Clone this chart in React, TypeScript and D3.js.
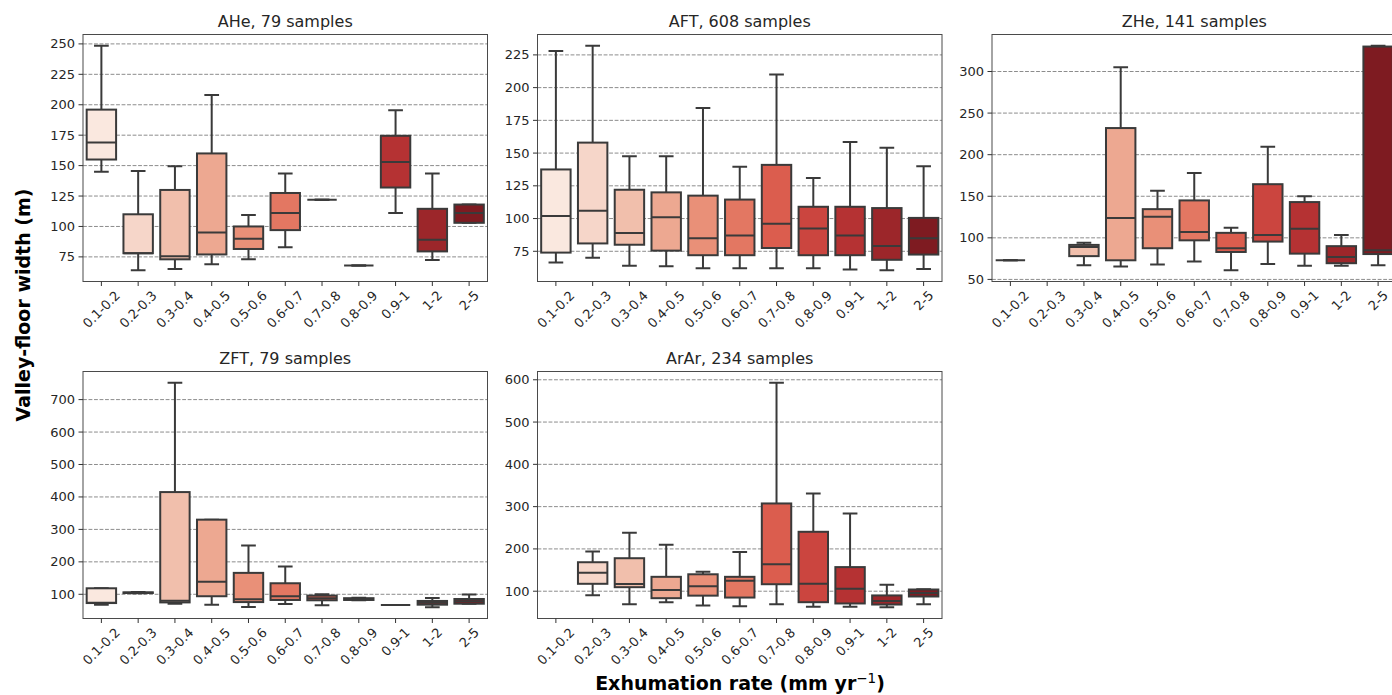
import { useRef, useEffect } from 'react';
import * as d3 from 'd3';

const categories = ['0.1-0.2', '0.2-0.3', '0.3-0.4', '0.4-0.5', '0.5-0.6', '0.6-0.7', '0.7-0.8', '0.8-0.9', '0.9-1', '1-2', '2-5'];

// [lower whisker, q1, median, q3, upper whisker] per category, null = no data
const aheStats = [
  [145, 155, 169, 196, 248.5],
  [64, 78, 78, 110, 145.5],
  [65, 73, 75.5, 130, 149.5],
  [69, 77, 95, 160, 208],
  [73, 81.5, 90, 100, 109.5],
  [83, 97, 111, 127.5, 143.5],
  [122, 122, 122, 122, 122],
  [68, 68, 68, 68, 68],
  [111, 132, 153, 174.5, 195.5],
  [72.5, 79.5, 89, 114.5, 143.5],
  [103, 103, 111, 118, 118],
];
const aftStats = [
  [66.5, 74, 102, 137.5, 228],
  [70, 81, 106, 158, 232],
  [64, 80, 89, 122, 147.5],
  [63.5, 75.5, 101, 120, 147.5],
  [62, 72, 85, 117.5, 184.5],
  [62, 72, 87, 114.5, 139.5],
  [62, 77.5, 96, 141, 210],
  [62, 72, 92.5, 109, 131],
  [61, 72, 87, 109, 158.5],
  [60.5, 68.5, 79, 108, 154],
  [61.5, 72.5, 85, 100.5, 140],
];
const zheStats = [
  [73, 73, 73, 73, 73],
  null,
  [67, 78, 89, 91.5, 94],
  [65.5, 73, 124, 232, 305],
  [68, 87.5, 125.5, 134.5, 156.5],
  [71.5, 97, 107, 145, 178],
  [61, 83, 87.5, 106, 112],
  [68.5, 95.5, 103.5, 164.5, 209.5],
  [66.5, 81, 111, 143, 150],
  [66.5, 69.5, 77, 90, 103.5],
  [67, 80.5, 85, 330, 331],
];
const zftStats = [
  [68, 73, 74, 118.5, 118.5],
  [103, 104, 105, 106, 107],
  [71, 75, 80, 415, 752],
  [68, 94, 139, 330, 330],
  [61, 76, 84.5, 166, 250],
  [70, 82.5, 94, 134, 186],
  [66, 81.5, 87.5, 96, 100],
  [82, 82.5, 85, 88, 89],
  [67, 67, 67, 67, 67],
  [60, 68, 74, 79.5, 88.5],
  [71, 71, 78.5, 85.5, 99],
];
const ararStats = [
  null,
  [90.5, 117.5, 143.5, 168.5, 194],
  [69, 109.5, 117, 178, 238],
  [74, 83.5, 103, 134, 210],
  [66, 89.5, 112, 140, 146],
  [64.5, 85, 125, 134, 193],
  [69, 116.5, 164, 307.5, 593],
  [63.5, 74, 117.5, 240.5, 331],
  [63.5, 71, 106, 157, 284],
  [62, 68.5, 77, 90, 115],
  [69, 87.5, 96, 104, 104.5],
];

const titles = ['AHe, 79 samples', 'AFT, 608 samples', 'ZHe, 141 samples', 'ZFT, 79 samples', 'ArAr, 234 samples'];
const yTicks = [
  [75, 100, 125, 150, 175, 200, 225, 250],
  [75, 100, 125, 150, 175, 200, 225],
  [50, 100, 150, 200, 250, 300],
  [100, 200, 300, 400, 500, 600, 700],
  [100, 200, 300, 400, 500, 600],
];
const panelStats = [aheStats, aftStats, zheStats, zftStats, ararStats];

const W = 1392;
const H = 695;
const colLeft = [83, 537.5, 992];
const rowTop = [34.5, 371.5];
const plotW = 404.5;
const plotH = 247;
const font = 'DejaVu Sans, sans-serif';
const lineColor = '#3a3a3a';

function boxColor(i) {
  const c = d3.hsl(d3.interpolateReds((i + 1) / 12));
  c.s *= 0.75; // seaborn desaturation
  return c.formatHex();
}

export default function App() {
  const ref = useRef(null);

  useEffect(() => {
    const svg = d3.select(ref.current);
    svg.selectAll('*').remove();

    panelStats.forEach((stats, p) => {
      const left = colLeft[p % 3];
      const top = rowTop[Math.floor(p / 3)];
      const bottom = top + plotH;
      const right = left + plotW;

      const vals = stats.filter(Boolean).flat();
      const lo = d3.min(vals);
      const hi = d3.max(vals);
      const m = (hi - lo) * 0.05;

      const x = d3.scaleBand().domain(categories).range([left, right]).padding(0);
      const y = d3.scaleLinear().domain([lo - m, hi + m]).range([bottom, top]);
      const bw = x.bandwidth() * 0.8;

      const defs = svg.append('defs');
      defs.append('clipPath').attr('id', `clip${p}`)
        .append('rect').attr('x', left).attr('y', top).attr('width', plotW).attr('height', plotH);

      const g = svg.append('g');
      const inner = g.append('g').attr('clip-path', `url(#clip${p})`);

      // grid
      inner.selectAll('line.grid')
        .data(yTicks[p])
        .join('line')
        .attr('x1', left).attr('x2', right)
        .attr('y1', (d) => y(d)).attr('y2', (d) => y(d))
        .attr('stroke', '#8c8c8c')
        .attr('stroke-width', 1)
        .attr('stroke-dasharray', '3.85,1.66');

      // boxes
      stats.forEach((s, i) => {
        if (!s) return;
        const [wl, q1, med, q3, wh] = s;
        const cx = x(categories[i]) + x.bandwidth() / 2;
        const b = inner.append('g');
        b.append('line').attr('x1', cx).attr('x2', cx).attr('y1', y(q1)).attr('y2', y(wl))
          .attr('stroke', lineColor).attr('stroke-width', 2);
        b.append('line').attr('x1', cx).attr('x2', cx).attr('y1', y(q3)).attr('y2', y(wh))
          .attr('stroke', lineColor).attr('stroke-width', 2);
        [wl, wh].forEach((v) => {
          b.append('line').attr('x1', cx - bw / 4).attr('x2', cx + bw / 4)
            .attr('y1', y(v)).attr('y2', y(v))
            .attr('stroke', lineColor).attr('stroke-width', 2);
        });
        b.append('rect')
          .attr('x', cx - bw / 2).attr('width', bw)
          .attr('y', y(q3)).attr('height', Math.max(0, y(q1) - y(q3)))
          .attr('fill', boxColor(i))
          .attr('stroke', lineColor).attr('stroke-width', 2);
        b.append('line').attr('x1', cx - bw / 2).attr('x2', cx + bw / 2)
          .attr('y1', y(med)).attr('y2', y(med))
          .attr('stroke', lineColor).attr('stroke-width', 2);
      });

      // frame
      g.append('rect')
        .attr('x', left).attr('y', top).attr('width', plotW).attr('height', plotH)
        .attr('fill', 'none').attr('stroke', '#4a4a4a').attr('stroke-width', 1);

      // y ticks
      const yt = g.selectAll('g.yt').data(yTicks[p]).join('g');
      yt.append('line').attr('x1', left - 4.5).attr('x2', left)
        .attr('y1', (d) => y(d)).attr('y2', (d) => y(d))
        .attr('stroke', '#333').attr('stroke-width', 1);
      yt.append('text')
        .attr('x', left - 8).attr('y', (d) => y(d))
        .attr('text-anchor', 'end').attr('dominant-baseline', 'central')
        .attr('font-family', font).attr('font-size', 13).attr('fill', '#262626')
        .text((d) => d);

      // x ticks
      const xt = g.selectAll('g.xt').data(categories).join('g');
      xt.append('line')
        .attr('x1', (d) => x(d) + x.bandwidth() / 2).attr('x2', (d) => x(d) + x.bandwidth() / 2)
        .attr('y1', bottom).attr('y2', bottom + 4.5)
        .attr('stroke', '#333').attr('stroke-width', 1);
      xt.append('text')
        .attr('font-family', font).attr('font-size', 13).attr('fill', '#262626')
        .attr('text-anchor', 'middle').attr('dominant-baseline', 'central')
        .text((d) => d)
        .each(function (d) {
          const w = this.getComputedTextLength();
          const half = ((w + 13) * Math.SQRT1_2) / 2;
          const cx = x(d) + x.bandwidth() / 2;
          const cy = bottom + 7 + half;
          d3.select(this).attr('transform', `translate(${cx},${cy}) rotate(-45)`);
        });

      // title
      g.append('text')
        .attr('x', left + plotW / 2).attr('y', top - 8)
        .attr('text-anchor', 'middle')
        .attr('font-family', font).attr('font-size', 16).attr('fill', '#262626')
        .text(titles[p]);
    });

    // axis labels
    svg.append('text')
      .attr('transform', 'translate(30,305) rotate(-90)')
      .attr('text-anchor', 'middle')
      .attr('font-family', font).attr('font-weight', 'bold').attr('font-size', 19)
      .attr('fill', '#000')
      .text('Valley-floor width (m)');

    const xl = svg.append('text')
      .attr('x', 740).attr('y', 690)
      .attr('text-anchor', 'middle')
      .attr('font-family', font).attr('font-weight', 'bold').attr('font-size', 19)
      .attr('fill', '#000');
    xl.append('tspan').text('Exhumation rate (mm yr');
    xl.append('tspan').attr('dy', -7.5).attr('font-size', 13.5).attr('font-weight', 'normal').text('\u22121');
    xl.append('tspan').attr('dy', 7.5).text(')');
  }, []);

  return (
    <div style={{ position: 'absolute', left: 0, top: 0, width: W, height: H, background: '#fff' }}>
      <svg ref={ref} width={W} height={H} style={{ display: 'block' }} />
    </div>
  );
}
